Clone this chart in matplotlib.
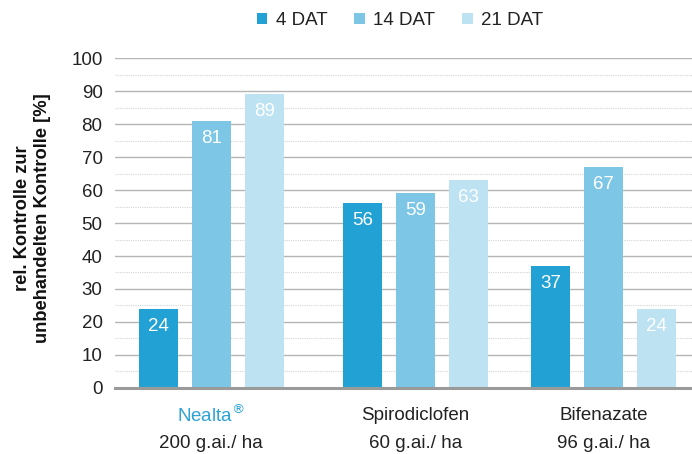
import numpy as np
import matplotlib
matplotlib.use("Agg")
import matplotlib.pyplot as plt
from matplotlib.patches import Patch

plt.rcParams["font.family"] = ["Liberation Sans", "DejaVu Sans"]

products = ["Nealta", "Spirodiclofen", "Bifenazate"]
rates = ["200 g.ai./ ha", "60 g.ai./ ha", "96 g.ai./ ha"]
series = ["4 DAT", "14 DAT", "21 DAT"]
dat4 = [24, 56, 37]
dat14 = [81, 59, 67]
dat21 = [89, 63, 24]
yticks = list(range(0, 101, 10))

colors = ["#22a2d4", "#7ec6e6", "#bde2f1"]
text_col = "#222222"
fs = 13.5

fig = plt.figure(figsize=(6.92, 4.54), dpi=100)
ax = fig.add_axes([0.1662, 0.1454, 0.8338, 0.7268])

group_x = np.array([0.0, 1.04, 2.0])
width = 0.2
offset = 0.27

for i, (vals, col) in enumerate(zip([dat4, dat14, dat21], colors)):
    xs = group_x + (i - 1) * offset
    bars = ax.bar(xs, vals, width=width, color=col, zorder=3)
    for b, v in zip(bars, vals):
        ax.annotate(str(v), (b.get_x() + b.get_width() / 2, v),
                    xytext=(0, -12.5), textcoords="offset points",
                    ha="center", va="center", color="white", fontsize=fs,
                    zorder=4)

ax.set_xlim(-0.49, 2.45)
ax.set_ylim(0, 100)
ax.set_yticks(yticks)
ax.set_yticks(np.arange(5, 100, 10), minor=True)
ax.tick_params(axis="y", which="both", length=0, pad=9, labelsize=fs,
               labelcolor=text_col)
ax.set_xticks([])
ax.grid(axis="y", which="major", color="#b5b5b5", linewidth=1, zorder=0)
ax.grid(axis="y", which="minor", color="#d5d5d5", linewidth=0.8,
        linestyle=(0, (1, 1)), zorder=0)
for s in ["top", "right", "left"]:
    ax.spines[s].set_visible(False)
ax.spines["bottom"].set_color("#9a9a9a")
ax.spines["bottom"].set_linewidth(2.2)
ax.spines["bottom"].set_zorder(5)

trans = ax.get_xaxis_transform()
for x, name, rate in zip(group_x, products, rates):
    if name == "Nealta":
        ax.text(x, -0.082, "Nealta$^{®}$", transform=trans, ha="center",
                va="center", fontsize=fs, color="#2ba3d5")
    else:
        ax.text(x, -0.082, name, transform=trans, ha="center", va="center",
                fontsize=fs, color=text_col)
    ax.text(x, -0.167, rate, transform=trans, ha="center", va="center",
            fontsize=fs, color=text_col)

fig.text(0.047, 0.52, "rel. Kontrolle zur\nunbehandelten Kontrolle [%]",
         rotation=90, ha="center", va="center", fontsize=13.2,
         fontweight="bold", color="#111111", linespacing=1.2)

handles = [Patch(facecolor=c, edgecolor="none") for c in colors]
fig.legend(handles, series, loc="center", bbox_to_anchor=(0.578, 0.954),
           ncol=3, frameon=False, fontsize=fs, handlelength=0.55,
           handleheight=0.55, handletextpad=0.45, columnspacing=1.45,
           labelcolor=text_col)

fig.savefig("out.png", dpi=100)
